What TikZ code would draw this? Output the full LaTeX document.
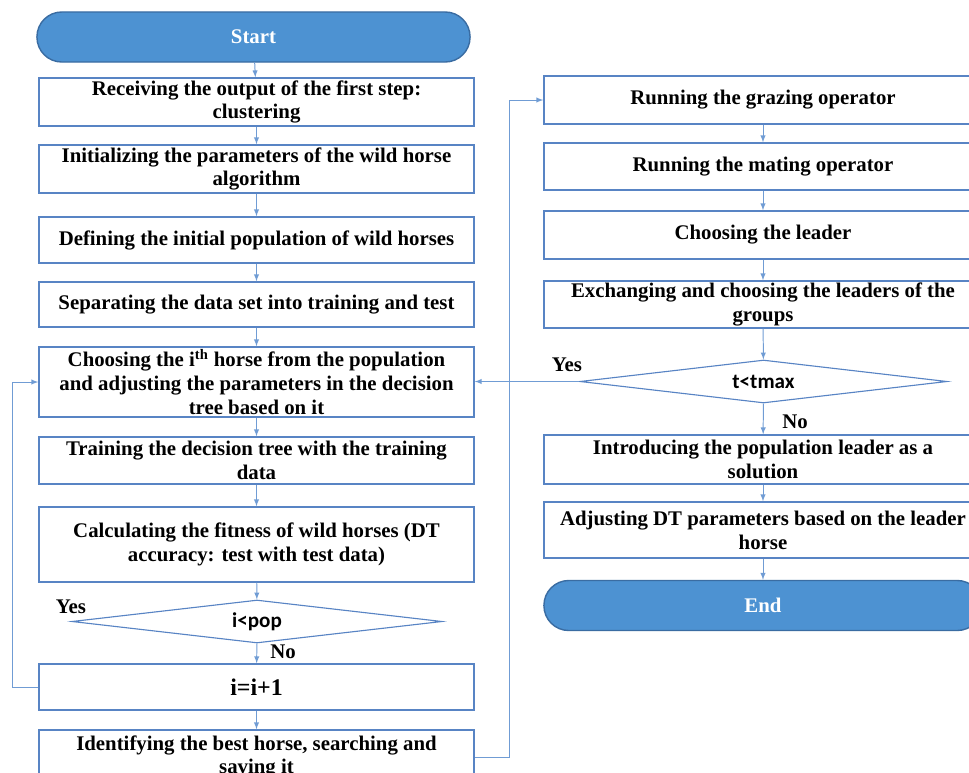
\documentclass[tikz,border=0pt]{standalone}
\usepackage{fontspec}
\setmainfont{Liberation Serif}
\newfontfamily\calibri{Carlito}
\usetikzlibrary{shapes.geometric}
\definecolor{boxline}{RGB}{88,132,196}
\definecolor{arrowline}{RGB}{112,156,212}
\definecolor{termfill}{RGB}{77,146,210}
\definecolor{termline}{RGB}{58,108,162}
\begin{document}
\begin{tikzpicture}[>=latex, x=0.025cm, y=-0.025cm,
    every node/.style={font=\fontsize{14.8}{17}\selectfont\bfseries, align=center, inner sep=0pt},
    procbox/.style={draw=boxline, line width=1pt, fill=white, minimum width=10.875cm},
    rbox/.style={procbox, minimum width=10.95cm},
    term/.style={draw=termline, line width=1pt, fill=termfill, text=white, rounded corners=0.62cm, minimum height=1.25cm},
    test/.style={diamond, draw=boxline, line width=0.8pt, fill=white, shape aspect=8, font=\calibri\fontsize{15}{17}\selectfont\bfseries},
    flow/.style={->, draw=arrowline, line width=0.7pt}]
    \def\xl{256.5}
    \def\xr{763}
    \useasboundingbox (0, 0) rectangle (969, 772);
    % left column
    \node[term, minimum width=10.825cm] (start) at (253.5, 37) {Start};
    \node[procbox, minimum height=1.2cm] (recv) at (\xl, 102) {Receiving the output of the first step:\\clustering};
    \node[procbox, minimum height=1.2cm] (init) at (\xl, 169) {Initializing the parameters of the wild horse\\algorithm};
    \node[procbox, minimum height=1.15cm] (defpop) at (\xl, 240) {Defining the initial population of wild horses};
    \node[procbox, minimum height=1.125cm] (split) at (\xl, 304.5) {Separating the data set into training and test};
    \node[procbox, minimum height=1.75cm] (choose) at (\xl, 382) {Choosing the i\textsuperscript{th} horse from the population\\and adjusting the parameters in the decision\\tree based on it};
    \node[procbox, minimum height=1.175cm] (train) at (\xl, 460.5) {Training the decision tree with the training\\data};
    \node[procbox, minimum height=1.875cm] (fit) at (\xl, 544.5) {Calculating the fitness of wild horses (DT\\accuracy: test with test data)};
    \node[test, minimum width=9.25cm, minimum height=1.075cm] (ipop) at (257, 621.5) {i<pop};
    \node[procbox, minimum height=1.15cm, font=\fontsize{17}{19}\selectfont\bfseries] (incr) at (\xl, 687) {i=i+1};
    \node[procbox, minimum height=1.35cm] (best) at (\xl, 757) {Identifying the best horse, searching and\\saving it};
    \node (yes1) at (71, 607) {Yes};
    \node (no1) at (283, 652) {No};
    % right column
    \node[rbox, minimum height=1.2cm] (graze) at (\xr, 100) {Running the grazing operator};
    \node[rbox, minimum height=1.175cm] (mate) at (\xr, 166.5) {Running the mating operator};
    \node[rbox, minimum height=1.2cm] (leader) at (\xr, 235) {Choosing the leader};
    \node[rbox, minimum height=1.175cm] (exch) at (\xr, 304.5) {Exchanging and choosing the leaders of the\\groups};
    \node[test, minimum width=9.175cm, minimum height=1.075cm] (tmax) at (763.5, 381.5) {t<tmax};
    \node[rbox, minimum height=1.225cm] (intro) at (\xr, 459.5) {Introducing the population leader as a\\solution};
    \node[rbox, minimum height=1.4cm] (adjust) at (\xr, 530) {Adjusting DT parameters based on the leader\\horse};
    \node[term, minimum width=10.95cm] (end) at (\xr, 605.5) {End};
    \node (yes2) at (567, 365) {Yes};
    \node (no2) at (795, 422) {No};
    \draw[flow] (start) -- (recv);
    \draw[flow] (recv) -- (init);
    \draw[flow] (init) -- (defpop);
    \draw[flow] (defpop) -- (split);
    \draw[flow] (split) -- (choose);
    \draw[flow] (choose) -- (train);
    \draw[flow] (train) -- (fit);
    \draw[flow] (fit) -- (ipop);
    \draw[flow] (ipop) -- (incr);
    \draw[flow] (incr) -- (best);
    \draw[flow] (incr.west) -- ++(-26, 0) |- (choose.west);
    \draw[flow] (best.east) -- ++(35, 0) |- (graze.west);
    \draw[flow] (graze) -- (mate);
    \draw[flow] (mate) -- (leader);
    \draw[flow] (leader) -- (exch);
    \draw[flow] (exch) -- (tmax);
    \draw[flow] (tmax.west) -- (tmax.west -| choose.east);
    \draw[flow] (tmax) -- (intro);
    \draw[flow] (intro) -- (adjust);
    \draw[flow] (adjust) -- (end);
\end{tikzpicture}
\end{document}
